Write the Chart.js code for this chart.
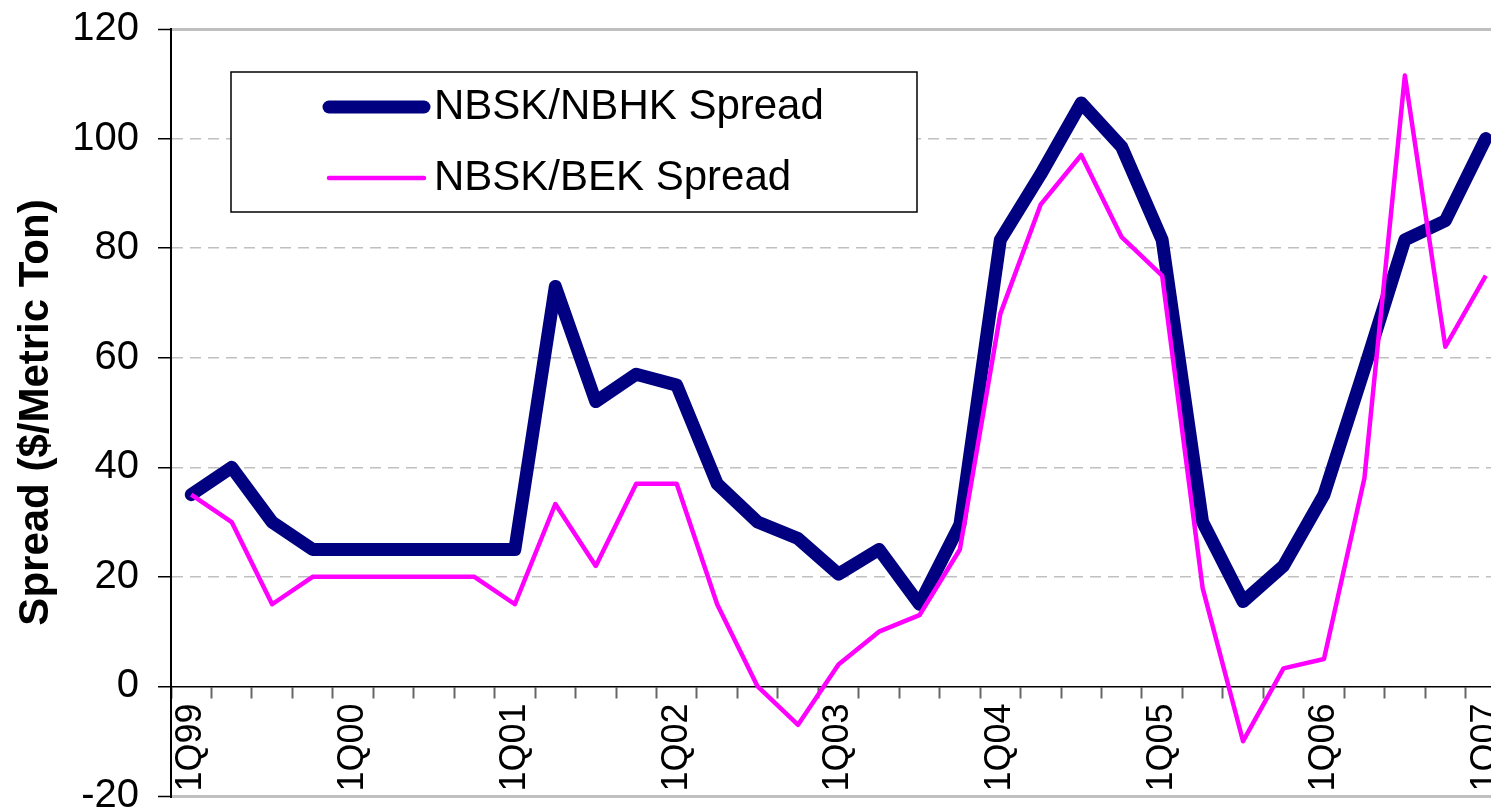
<!DOCTYPE html>
<html>
<head>
<meta charset="utf-8">
<title>Spread</title>
<script src="https://cdn.jsdelivr.net/npm/chart.js@4/dist/chart.umd.min.js"></script>
<style>
    html, body { margin: 0; padding: 0; background: #fff; }
    #wrap { position: absolute; left: 0; top: 0; width: 1491px; height: 811px; overflow: hidden; }
    #myChart { display: block; }
</style>
</head>
<body>
<div id="wrap">
    <canvas id="myChart" width="1506" height="811" style="width:1506px;height:811px"></canvas>
</div>
<script>
/** 季度 */
var quarters = [
    '1Q99', '2Q99', '3Q99', '4Q99',
    '1Q00', '2Q00', '3Q00', '4Q00',
    '1Q01', '2Q01', '3Q01', '4Q01',
    '1Q02', '2Q02', '3Q02', '4Q02',
    '1Q03', '2Q03', '3Q03', '4Q03',
    '1Q04', '2Q04', '3Q04', '4Q04',
    '1Q05', '2Q05', '3Q05', '4Q05',
    '1Q06', '2Q06', '3Q06', '4Q06',
    '1Q07'
]
/** NBSK/NBHK */
var nbhkSpread = [
    35, 40, 30, 25,
    25, 25, 25, 25,
    25, 73, 52, 57,
    55, 37, 30, 27,
    20.5, 25, 15, 29.5,
    81.5, 93.5, 106.5, 98.5,
    81.5, 30, 15.5, 22,
    35, 58, 81.5, 85,
    100
]
/** NBSK/BEK */
var bekSpread = [
    35, 30, 15, 20,
    20, 20, 20, 20,
    15, 33.3, 22, 37,
    37, 15, 0, -7,
    4, 10, 13, 25,
    68, 88, 97, 82,
    75, 18, -10, 3.3,
    5, 38, 111.5, 62,
    75
]
var yMin = -20
var yMax = 120
var yStep = 20
var seriesNames = ['NBSK/NBHK Spread', 'NBSK/BEK Spread']
var yTitle = 'Spread ($/Metric Ton)'

var FONT = "'Liberation Sans', Arial, sans-serif"

/** 图例 (画在图内的方框) */
var boxLegend = {
    id: 'boxLegend',
    afterDatasetsDraw: function (chart) {
        var ctx = chart.ctx
        var left = 231, top = 72, right = 917, bottom = 212
        var rows = [107, 178]
        ctx.save()
        ctx.fillStyle = '#fff'
        ctx.fillRect(left, top, right - left, bottom - top)
        ctx.strokeStyle = '#000'
        ctx.lineWidth = 1.5
        ctx.strokeRect(left, top, right - left, bottom - top)
        chart.data.datasets.forEach(function (ds, i) {
            var y = rows[i]
            ctx.beginPath()
            ctx.strokeStyle = ds.borderColor
            ctx.lineWidth = ds.borderWidth
            ctx.lineCap = 'round'
            ctx.moveTo(329, y)
            ctx.lineTo(424, y)
            ctx.stroke()
            ctx.fillStyle = '#000'
            ctx.font = '42px ' + FONT
            ctx.textAlign = 'left'
            ctx.textBaseline = 'middle'
            ctx.fillText(ds.label, 434, y)
        })
        ctx.restore()
    }
}

var ctx = document.getElementById('myChart').getContext('2d')
var myChart = new Chart(ctx, {
    type: 'line',
    data: {
        labels: quarters,
        datasets: [
            {
                label: seriesNames[0],
                data: nbhkSpread,
                borderColor: '#000080',
                backgroundColor: '#000080',
                borderWidth: 13,
                borderJoinStyle: 'round',
                borderCapStyle: 'round',
                pointRadius: 0,
                tension: 0,
                fill: false,
                order: 1
            },
            {
                label: seriesNames[1],
                data: bekSpread,
                borderColor: '#FF00FF',
                backgroundColor: '#FF00FF',
                borderWidth: 4.5,
                borderJoinStyle: 'round',
                pointRadius: 0,
                tension: 0,
                fill: false,
                order: 0
            }
        ]
    },
    options: {
        responsive: false,
        devicePixelRatio: 1,
        animation: false,
        layout: { padding: { left: 0, right: 0, top: 29, bottom: 15 } },
        plugins: {
            legend: { display: false },
            tooltip: { enabled: false }
        },
        scales: {
            x: {
                position: { y: 0 },
                offset: true,
                grid: {
                    offset: true,
                    drawOnChartArea: false,
                    drawTicks: true,
                    tickLength: 11,
                    tickColor: '#666',
                    tickWidth: 2
                },
                border: { display: true, color: '#000', width: 1.5 },
                ticks: {
                    autoSkip: false,
                    minRotation: 90,
                    maxRotation: 90,
                    padding: 6,
                    color: '#000',
                    font: { family: FONT, size: 36 },
                    callback: function (val) {
                        var lab = this.getLabelForValue(val)
                        return lab.indexOf('1Q') === 0 ? lab : ''
                    }
                },
                afterFit: function (scale) {
                    scale.paddingLeft = 0
                    scale.paddingRight = 0
                }
            },
            y: {
                position: 'left',
                min: yMin,
                max: yMax,
                grid: {
                    drawTicks: true,
                    tickLength: 13,
                    tickColor: '#000',
                    tickWidth: 1.5,
                    color: function (c) {
                        if (!c.tick) return '#c0c0c0'
                        if (c.tick.value === 0) return 'rgba(0,0,0,0)'
                        return '#c0c0c0'
                    },
                    lineWidth: function (c) {
                        if (c.tick && (c.tick.value === yMax || c.tick.value === yMin)) return 3
                        return 1.5
                    }
                },
                border: {
                    display: true,
                    color: '#000',
                    width: 2,
                    dash: function (c) {
                        if (c.tick && (c.tick.value === yMax || c.tick.value === yMin)) return []
                        return [11, 7]
                    }
                },
                ticks: {
                    stepSize: yStep,
                    padding: 19,
                    color: '#000',
                    font: { family: FONT, size: 40 }
                },
                title: {
                    display: true,
                    text: yTitle,
                    color: '#000',
                    padding: { top: 11, bottom: 0 },
                    font: { family: FONT, size: 42, weight: 'bold', lineHeight: 1.2 }
                },
                afterFit: function (scale) {
                    scale.width = 171
                    scale.paddingTop = 0
                    scale.paddingBottom = 0
                }
            }
        }
    },
    plugins: [boxLegend]
})
</script>
</body>
</html>
